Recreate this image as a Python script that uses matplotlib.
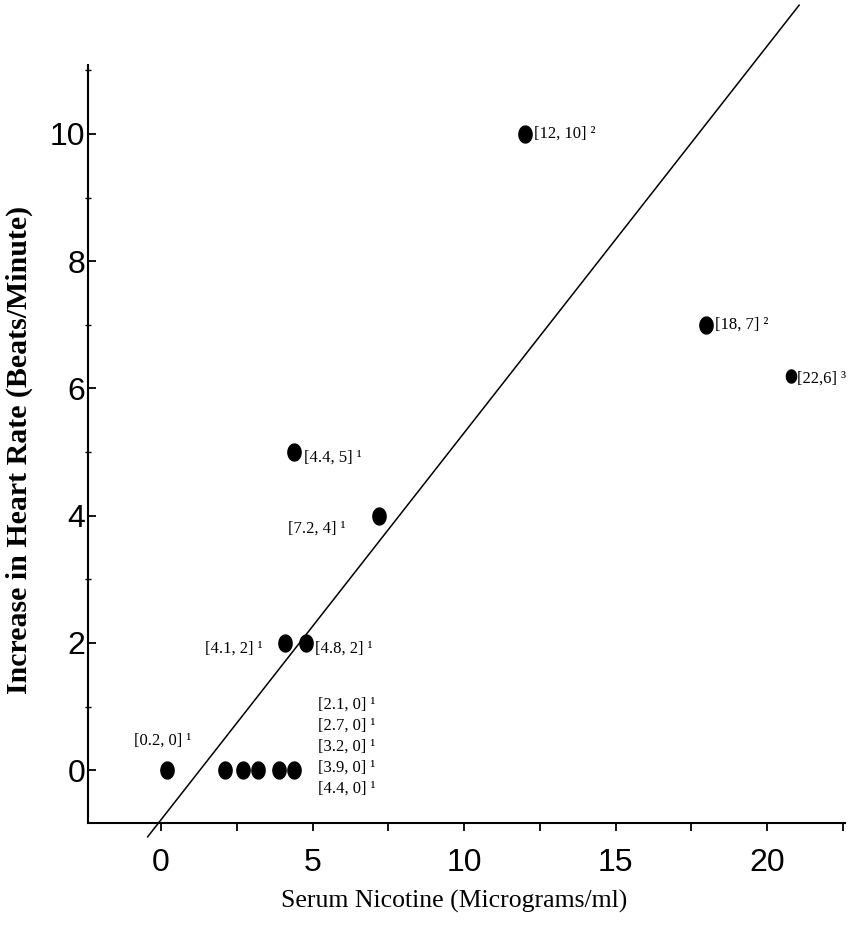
import numpy as np
import matplotlib
matplotlib.use("Agg")
import matplotlib.pyplot as plt
from matplotlib.path import Path
from matplotlib.ticker import MultipleLocator

# Data (marker positions as drawn)
nicotine = [0.2, 2.1, 2.7, 3.2, 3.9, 4.4, 4.1, 4.8, 4.4, 7.2, 12, 18, 20.8]
heart_rate = [0, 0, 0, 0, 0, 0, 2, 2, 5, 4, 10, 7, 6.2]
point_labels = ["[0.2, 0]", "[2.1, 0]", "[2.7, 0]", "[3.2, 0]", "[3.9, 0]", "[4.4, 0]",
                "[4.1, 2]", "[4.8, 2]", "[4.4, 5]", "[7.2, 4]", "[12, 10]", "[18, 7]", "[22,6]"]
label_marks = ["\u00b9"] * 10 + ["\u00b2", "\u00b2", "\u00b3"]

# fitted line as drawn
fit_slope = 0.608
fit_intercept = -0.78
fit_x = [-0.44, 21.06]

fig = plt.figure(figsize=(8.5, 9.32), dpi=100)
ax = fig.add_axes([0.1035, 0.117, 0.8905, 0.813])

# slightly tall elliptical marker
t = np.linspace(0, 2 * np.pi, 60)
ellipse = Path(np.column_stack([0.78 * np.cos(t), np.sin(t)]), closed=True)

sizes = [12.2 if x < 20 else 9.4 for x in nicotine]
for x, y, ms in zip(nicotine, heart_rate, sizes):
    ax.plot(x, y, marker=ellipse, ms=ms, color="black", ls="none", zorder=3, clip_on=False)

fx = np.array(fit_x)
ax.plot(fx, fit_slope * fx + fit_intercept, color="black", lw=1.1, clip_on=False)

# label offsets in points (text placement only)
offsets = {
    0: (-3, 21, "center"),
    6: (-16, -4, "right"),
    7: (6.5, -4, "left"),
    8: (7, -4, "left"),
    9: (-24, -9, "right"),
    10: (6.5, 0, "left"),
    11: (6.5, 0, "left"),
    12: (4.3, -2, "left"),
}
lab_font = dict(family="Liberation Serif", fontsize=12)
for i, (dx, dy, ha) in offsets.items():
    ax.annotate(point_labels[i] + " " + label_marks[i], (nicotine[i], heart_rate[i]),
                xytext=(dx, dy), textcoords="offset points", ha=ha, va="center", **lab_font)

# stacked labels for the zero points, anchored to the [4.4, 0] point
for k, i in enumerate(range(1, 6)):
    ax.annotate(point_labels[i] + " " + label_marks[i], (nicotine[5], heart_rate[5]),
                xytext=(17, 47 - 15.1 * k), textcoords="offset points",
                ha="left", va="center", **lab_font)

ax.set_xlim(-2.41, 22.57)
ax.set_ylim(-0.83, 11.08)

ax.xaxis.set_major_locator(MultipleLocator(5))
ax.xaxis.set_minor_locator(MultipleLocator(2.5))
ax.yaxis.set_major_locator(MultipleLocator(2))
ax.set_yticks(np.arange(1, 12, 2), minor=True)

for s in ["top", "right"]:
    ax.spines[s].set_visible(False)
for s in ["left", "bottom"]:
    ax.spines[s].set_linewidth(1.5)

ax.tick_params(axis="x", which="major", direction="out", length=6, width=1.3, pad=12)
ax.tick_params(axis="x", which="minor", direction="out", length=6, width=1.3)
ax.tick_params(axis="y", which="major", direction="in", length=6, width=1.3, pad=2)
ax.tick_params(axis="y", which="minor", direction="inout", length=4, width=1.0)

for lbl in ax.get_xticklabels() + ax.get_yticklabels():
    lbl.set_fontfamily("Liberation Sans")
    lbl.set_fontsize(23)

ax.set_xlabel("Serum Nicotine (Micrograms/ml)", family="Liberation Serif", fontsize=18.5)
ax.xaxis.label.set_va("center")
ax.xaxis.set_label_coords(0.4835, -0.104)

ax.set_ylabel("Increase in Heart Rate (Beats/Minute)", family="Liberation Serif",
              fontsize=21.5, fontweight="bold")
ax.yaxis.label.set_va("center")
ax.yaxis.set_label_coords(-0.091, 0.492)

fig.savefig("out.png", dpi=100)
